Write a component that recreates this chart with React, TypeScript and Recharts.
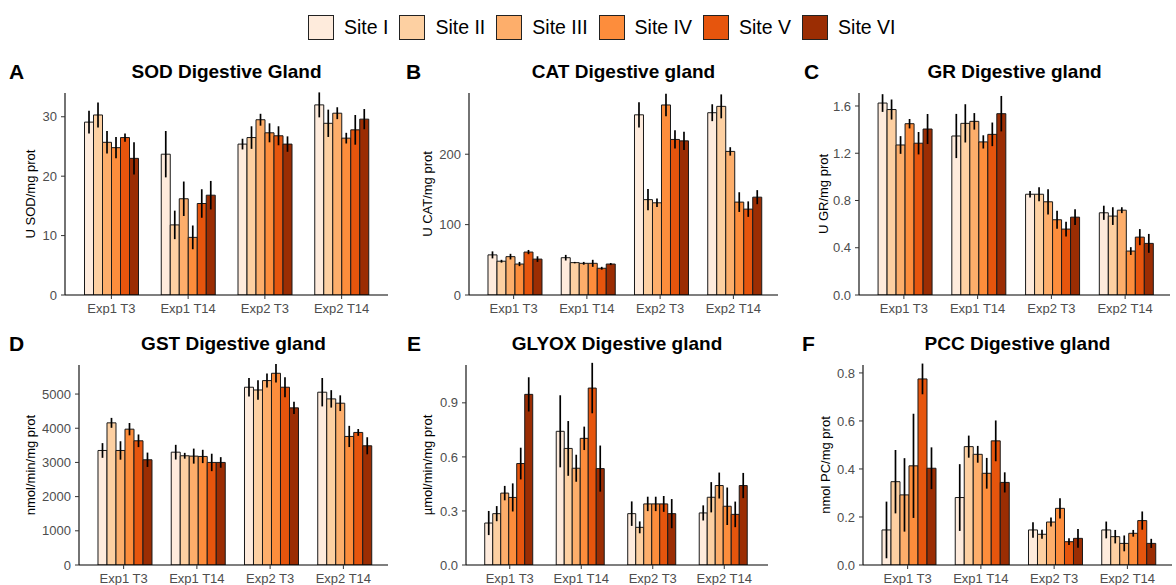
import React from "react";
import { BarChart, Bar, XAxis, YAxis, ErrorBar } from "recharts";

const categories = ["Exp1 T3", "Exp1 T14", "Exp2 T3", "Exp2 T14"];
const sites = ["Site I", "Site II", "Site III", "Site IV", "Site V", "Site VI"];
const siteColors = ["#FEEBDC", "#FDD0A2", "#FDAE6B", "#FD8D3C", "#E6550D", "#9B2D03"];

// values are [category][site]
const sodMean = [
  [29.1, 30.3, 25.7, 24.8, 26.5, 23.0],
  [23.7, 11.8, 16.2, 9.7, 15.4, 16.8],
  [25.4, 26.5, 29.5, 27.3, 26.8, 25.4],
  [32.0, 28.9, 30.6, 26.4, 27.8, 29.6],
];
const sodErr = [
  [1.9, 2.1, 1.9, 1.8, 0.7, 2.7],
  [3.9, 2.4, 2.9, 2.0, 2.4, 2.4],
  [0.9, 1.9, 1.0, 1.6, 1.6, 1.3],
  [2.1, 2.3, 1.0, 0.9, 2.5, 1.7],
];

const catMean = [
  [57, 48, 54.5, 44, 61, 51],
  [53, 46, 45, 45, 38, 44],
  [256, 135.5, 131, 270, 221, 219],
  [259, 268, 204, 132, 122, 139],
];
const catErr = [
  [5, 2, 4, 3, 3, 4],
  [4, 1, 2, 5, 2, 1.5],
  [18, 15, 6, 16, 13, 13],
  [12, 17, 6, 14, 11, 10],
];

const grMean = [
  [1.625, 1.57, 1.27, 1.45, 1.285, 1.405],
  [1.346, 1.453, 1.47, 1.296, 1.36, 1.535],
  [0.853, 0.853, 0.789, 0.637, 0.558, 0.659],
  [0.696, 0.668, 0.718, 0.372, 0.49, 0.437],
];
const grErr = [
  [0.075, 0.085, 0.075, 0.04, 0.095, 0.127],
  [0.187, 0.162, 0.07, 0.056, 0.1, 0.15],
  [0.028, 0.06, 0.107, 0.077, 0.062, 0.066],
  [0.06, 0.075, 0.025, 0.033, 0.068, 0.08],
];

const gstMean = [
  [3350, 4158, 3350, 3973, 3633, 3078],
  [3300, 3195, 3185, 3175, 3000, 3000],
  [5200, 5120, 5394, 5608, 5200, 4596],
  [5054, 4859, 4733, 3760, 3877, 3487],
];
const gstErr = [
  [215, 145, 270, 180, 185, 210],
  [215, 85, 220, 195, 255, 155],
  [270, 285, 205, 270, 290, 180],
  [415, 255, 230, 310, 100, 250],
];

const glyoxMean = [
  [0.233, 0.285, 0.399, 0.375, 0.563, 0.947],
  [0.742, 0.647, 0.537, 0.703, 0.982, 0.535],
  [0.285, 0.209, 0.339, 0.339, 0.339, 0.285],
  [0.289, 0.376, 0.441, 0.326, 0.281, 0.441],
];
const glyoxErr = [
  [0.067, 0.042, 0.04, 0.078, 0.088, 0.095],
  [0.2, 0.152, 0.075, 0.065, 0.14, 0.128],
  [0.068, 0.033, 0.04, 0.04, 0.044, 0.081],
  [0.042, 0.084, 0.072, 0.104, 0.071, 0.07],
];

const pccMean = [
  [0.146, 0.347, 0.292, 0.413, 0.775, 0.403],
  [0.281, 0.493, 0.461, 0.382, 0.517, 0.344],
  [0.146, 0.128, 0.179, 0.236, 0.097, 0.111],
  [0.146, 0.118, 0.09, 0.132, 0.185, 0.09],
];
const pccErr = [
  [0.118, 0.132, 0.153, 0.217, 0.064, 0.087],
  [0.139, 0.046, 0.035, 0.064, 0.085, 0.042],
  [0.032, 0.019, 0.019, 0.042, 0.014, 0.039],
  [0.035, 0.028, 0.033, 0.014, 0.038, 0.019],
];

const FONT = '"Liberation Sans", Arial, Helvetica, sans-serif';

function buildRows(mean: number[][], err: number[][]) {
  return categories.map((cat, i) => {
    const row: any = { cat };
    sites.forEach((_, j) => {
      row[`m${j}`] = mean[i][j];
      row[`e${j}`] = err[i][j];
    });
    return row;
  });
}

const panels = [
  { letter: "A", title: "SOD Digestive Gland", yLabel: "U SOD/mg prot", mean: sodMean, err: sodErr,
    max: 34, ticks: [0, 10, 20, 30], digits: 0,
    left: 0, top: 55, width: 390, yw: 65, right: 2, mt: 38, letterX: 9, labelX: 30 },
  { letter: "B", title: "CAT Digestive gland", yLabel: "U CAT/mg prot", mean: catMean, err: catErr,
    max: 287, ticks: [0, 100, 200], digits: 0,
    left: 390, top: 55, width: 390, yw: 79, right: 2, mt: 38, letterX: 16, labelX: 37 },
  { letter: "C", title: "GR Digestive gland", yLabel: "U GR/mg prot", mean: grMean, err: grErr,
    max: 1.71, ticks: [0, 0.4, 0.8, 1.2, 1.6], digits: 1,
    left: 780, top: 55, width: 396, yw: 79, right: 6, mt: 38, letterX: 24, labelX: 43 },
  { letter: "D", title: "GST Digestive gland", yLabel: "nmol/min/mg prot", mean: gstMean, err: gstErr,
    max: 5850, ticks: [0, 1000, 2000, 3000, 4000, 5000], digits: 0,
    left: 0, top: 325, width: 390, yw: 79, right: 2, mt: 40, letterX: 9, labelX: 30 },
  { letter: "E", title: "GLYOX Digestive gland", yLabel: "\u00b5mol/min/mg prot", mean: glyoxMean, err: glyoxErr,
    max: 1.11, ticks: [0, 0.3, 0.6, 0.9], digits: 1,
    left: 390, top: 325, width: 390, yw: 76, right: 12, mt: 40, letterX: 17, labelX: 37 },
  { letter: "F", title: "PCC Digestive gland", yLabel: "nmol PC/mg prot", mean: pccMean, err: pccErr,
    max: 0.833, ticks: [0, 0.2, 0.4, 0.6, 0.8], digits: 1,
    left: 780, top: 325, width: 396, yw: 83, right: 4, mt: 40, letterX: 22, labelX: 45 },
];

const HEIGHT = 260;

function Panel({ p }: { p: any }) {
  const data = buildRows(p.mean, p.err);
  const plotLeft = p.yw;
  const plotRight = p.width - p.right;
  const titleCenterY = p.mt - 21;
  return (
    <div style={{ position: "absolute", left: p.left, top: p.top, width: p.width, height: HEIGHT }}>
      <div style={{ position: "absolute", left: p.letterX, top: titleCenterY - 11, fontSize: 21, lineHeight: "22px", fontWeight: 700 }}>
        {p.letter}
      </div>
      <div style={{ position: "absolute", left: plotLeft, width: plotRight - plotLeft, top: titleCenterY - 10, fontSize: 19, lineHeight: "20px", fontWeight: 700, textAlign: "center" }}>
        {p.title}
      </div>
      <BarChart
        width={p.width}
        height={HEIGHT}
        data={data}
        margin={{ top: p.mt, right: p.right, left: 0, bottom: 0 }}
        barCategoryGap="15%"
        barGap={0}
      >
        <XAxis
          dataKey="cat"
          interval={0}
          height={20}
          padding={{ left: 8, right: 8 }}
          tickSize={4}
          tickMargin={5}
          axisLine={{ stroke: "#000", strokeWidth: 1.1 }}
          tickLine={{ stroke: "#333" }}
          tick={{ fontSize: 13, fill: "#4d4d4d", fontFamily: FONT }}
        />
        <YAxis
          width={p.yw}
          domain={[0, p.max]}
          allowDataOverflow
          ticks={p.ticks}
          tickFormatter={(v: number) => v.toFixed(p.digits)}
          tickSize={4}
          tickMargin={4}
          axisLine={{ stroke: "#000", strokeWidth: 1.1 }}
          tickLine={{ stroke: "#333" }}
          tick={{ fontSize: 13, fill: "#4d4d4d", fontFamily: FONT }}
          label={{
            value: p.yLabel,
            angle: -90,
            position: "insideLeft",
            offset: p.labelX,
            style: { textAnchor: "middle", fontSize: 13, fill: "#000", fontFamily: FONT },
          }}
        />
        {sites.map((s, j) => (
          <Bar key={s} dataKey={`m${j}`} name={s} fill={siteColors[j]} stroke="#1a1a1a" strokeWidth={1} isAnimationActive={false}>
            <ErrorBar dataKey={`e${j}`} width={0} stroke="#000" strokeWidth={1.7} direction="y" isAnimationActive={false} />
          </Bar>
        ))}
      </BarChart>
    </div>
  );
}

function Legend() {
  return (
    <div style={{ position: "absolute", left: 308, top: 14, height: 26, display: "flex", alignItems: "center" }}>
      {sites.map((s, j) => (
        <div key={s} style={{ display: "flex", alignItems: "center", marginRight: 11 }}>
          <div style={{ width: 24, height: 23, background: siteColors[j], border: "1.5px solid #222" }} />
          <span style={{ marginLeft: 10, fontSize: 19.5, lineHeight: "26px" }}>{s}</span>
        </div>
      ))}
    </div>
  );
}

export default function App() {
  return (
    <div style={{ position: "absolute", left: 0, top: 0, width: 1176, height: 585, background: "#fff", fontFamily: FONT, color: "#000", overflow: "hidden" }}>
      <Legend />
      {panels.map((p) => (
        <Panel key={p.letter} p={p} />
      ))}
    </div>
  );
}
